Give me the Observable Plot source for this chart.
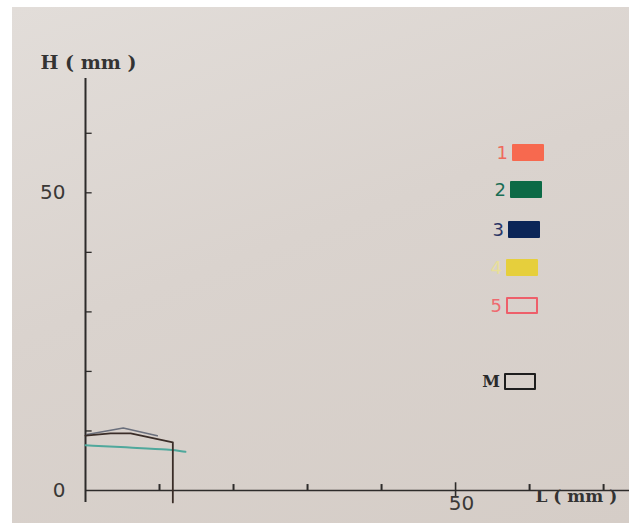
<!DOCTYPE html>
<html>
<head>
<meta charset="utf-8">
<script src="https://cdn.jsdelivr.net/npm/d3@7"></script>
<script src="https://cdn.jsdelivr.net/npm/@observablehq/plot@0.6"></script>
<style>
html, body { margin: 0; padding: 0; background: #ffffff; width: 629px; height: 523px; overflow: hidden; }
#paper { position: absolute; left: 12px; top: 7px; width: 617px; height: 516px;
  background: linear-gradient(160deg, #e2ddd9 0%, #dad3ce 45%, #d5cdc7 100%); }
#chart { position: absolute; left: 0; top: 0; }
.leg { position: absolute; height: 18px; display: flex; align-items: center; }
.leg .lab { width: 18px; text-align: right; margin-right: 4px; font-family: "DejaVu Sans", sans-serif; font-size: 18px; }
.leg .box { width: 32px; height: 17px; box-sizing: border-box; border-radius: 1px; }
</style>
</head>
<body>
<div id="paper"></div>
<div id="chart"></div>
<div id="legend"></div>
<script>
// ---- data ----
const xMax = 73.5;          // L (mm) extent of axis
const yMax = 69.2;          // H (mm) extent of axis
const xTickValues = [10, 20, 30, 40, 60, 70];
const xMajorTick = [50];
const yTickValues = [10, 20, 30, 40, 50, 60];
const xTickLabels = [50];
const yTickLabels = [0, 50];

// M outline (black/brown)
const mL = [0, 3.4, 6.1, 11.8, 11.8];
const mH = [9.2, 9.6, 9.6, 8.1, -2];
// upper grey-blue profile
const upL = [0.2, 5.1, 9.7];
const upH = [9.4, 10.5, 9.2];
// teal profile
const tealL = [0, 6, 11.5, 13.5];
const tealH = [7.6, 7.2, 6.9, 6.5];

const legendLabels = ["1", "2", "3", "4", "5", "M"];
const legendColors = ["#f7694f", "#0c6a46", "#0b2557", "#e6cf3c", "#ee5f6a", "#1e1e1e"];
const legendFilled = [true, true, true, true, false, false];
const legendTextColors = ["#ee6a5c", "#1a6e55", "#2a3566", "#e8df9a", "#ef6a70", "#2a2a2a"];

// ---- build ----
const toPts = (L, H) => L.map((l, i) => ({L: l, H: H[i]}));
const ink = "#2d2b2a";
const numFont = "'DejaVu Sans', sans-serif";
const serifFont = "'DejaVu Serif', 'Liberation Serif', serif";

const chart = Plot.plot({
  width: 629, height: 523,
  marginLeft: 85, marginRight: 0, marginTop: 78, marginBottom: 33,
  x: {domain: [0, xMax], axis: null},
  y: {domain: [0, yMax], axis: null},
  style: {background: "transparent", overflow: "visible"},
  marks: [
    Plot.ruleX([0], {y1: -2, y2: yMax, stroke: ink, strokeWidth: 2}),
    Plot.ruleY([0], {x1: 0, x2: xMax, stroke: ink, strokeWidth: 1.6}),
    Plot.ruleY(yTickValues, {x1: 0, x2: 0.9, stroke: ink, strokeWidth: 1.3}),
    Plot.ruleX(xTickValues, {y1: 0, y2: 1, stroke: ink, strokeWidth: 2}),
    Plot.ruleX(xMajorTick, {y1: -1.2, y2: 1.3, stroke: ink, strokeWidth: 1.6}),
    Plot.text(yTickLabels, {x: 0, y: d => d, text: d => String(d), dx: -20, textAnchor: "end",
      fontSize: 20, fontFamily: numFont, fill: "#3a3836"}),
    Plot.text(xTickLabels, {x: d => d, y: 0, text: d => String(d), dx: 6, dy: 13,
      fontSize: 20, fontFamily: numFont, fill: "#3a3836"}),
    Plot.text(["H ( mm )"], {frameAnchor: "top-left", dx: -45, dy: -23, textAnchor: "start",
      fontSize: 19, fontWeight: "bold", fontFamily: serifFont, fill: "#333"}),
    Plot.text(["L ( mm )"], {frameAnchor: "bottom-right", dx: -94, dy: 11, textAnchor: "start",
      fontSize: 17, fontWeight: "bold", fontFamily: serifFont, fill: "#333"}),
    Plot.line(toPts(tealL, tealH), {x: "L", y: "H", stroke: "#4fa89c", strokeWidth: 2, curve: "basis"}),
    Plot.line(toPts(upL, upH), {x: "L", y: "H", stroke: "#6a6f7c", strokeWidth: 1.6}),
    Plot.line(toPts(mL, mH), {x: "L", y: "H", stroke: "#3a2d28", strokeWidth: 1.8})
  ]
});
document.getElementById("chart").appendChild(chart);

// legend
const leg = document.getElementById("legend");
const legTops = [143, 180, 220, 258, 296, 372];
const legLefts = [490, 488, 486, 484, 484, 482];
legendLabels.forEach((lab, i) => {
  const it = document.createElement("div");
  it.className = "leg";
  it.style.top = legTops[i] + "px";
  it.style.left = legLefts[i] + "px";
  const t = document.createElement("span");
  t.className = "lab";
  t.textContent = lab;
  t.style.color = legendTextColors[i];
  if (lab === "M") { t.style.fontFamily = "'DejaVu Serif', serif"; t.style.fontWeight = "bold"; t.style.fontSize = "16px"; }
  const b = document.createElement("span");
  b.className = "box";
  if (legendFilled[i]) { b.style.background = legendColors[i]; }
  else { b.style.border = "2.5px solid " + legendColors[i]; }
  it.appendChild(t); it.appendChild(b);
  leg.appendChild(it);
});
</script>
</body>
</html>
